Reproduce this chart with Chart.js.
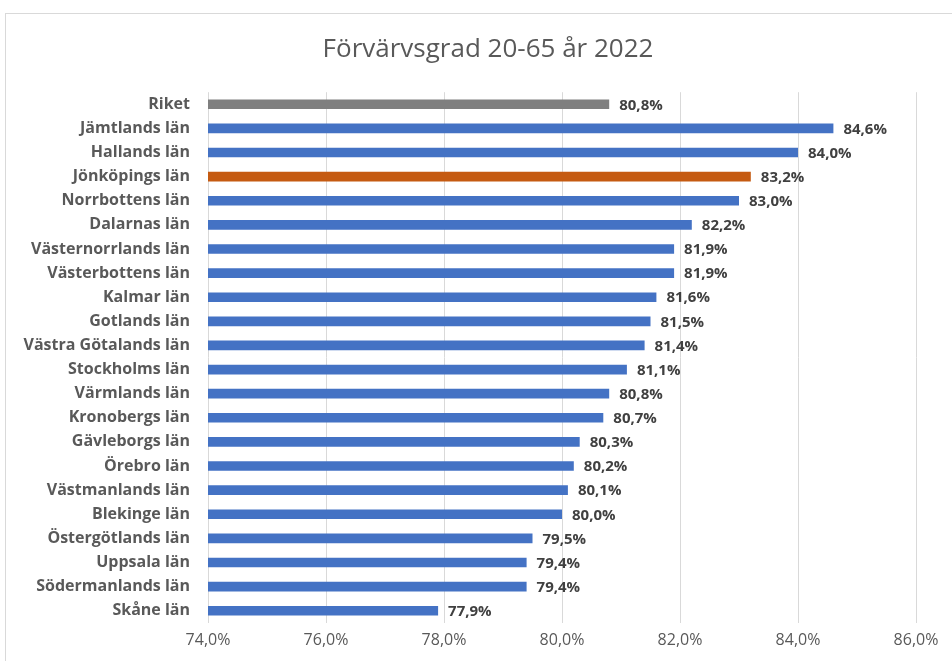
<!DOCTYPE html>
<html>
<head>
<meta charset="utf-8">
<script src="https://cdn.jsdelivr.net/npm/chart.js@4"></script>
<style>
  html, body { margin: 0; padding: 0; background: #fff; overflow: hidden; }
  #box { position: absolute; left: 5px; top: 13px; width: 970px; height: 660px; border: 1px solid #d9d9d9; background: #fff; }
  #wrap { position: absolute; left: 0; top: 0; width: 964px; height: 647px; }
</style>
</head>
<body>
<div id="box"><div id="wrap"><canvas id="c"></canvas></div></div>
<script>
const categories = ["Riket","Jämtlands län","Hallands län","Jönköpings län","Norrbottens län","Dalarnas län","Västernorrlands län","Västerbottens län","Kalmar län","Gotlands län","Västra Götalands län","Stockholms län","Värmlands län","Kronobergs län","Gävleborgs län","Örebro län","Västmanlands län","Blekinge län","Östergötlands län","Uppsala län","Södermanlands län","Skåne län"];
const values = [80.8,84.6,84.0,83.2,83.0,82.2,81.9,81.9,81.6,81.5,81.4,81.1,80.8,80.7,80.3,80.2,80.1,80.0,79.5,79.4,79.4,77.9];
const xTicks = [74,76,78,80,82,84,86];
const titleText = "Förvärvsgrad 20-65 år 2022";

const colorFor = (name) => name === "Riket" ? "#7f7f7f" : (name === "Jönköpings län" ? "#c55a11" : "#4472c4");
const fmt = (v) => v.toFixed(1).replace(".", ",") + "%";

const labelPlugin = {
  id: "barLabels",
  afterDatasetsDraw(chart) {
    const ctx = chart.ctx;
    const meta = chart.getDatasetMeta(0);
    ctx.save();
    ctx.font = "bold 15px 'Open Sans'";
    ctx.fillStyle = "#404040";
    ctx.textAlign = "left";
    ctx.textBaseline = "middle";
    meta.data.forEach((bar, i) => {
      ctx.fillText(fmt(values[i]), bar.x + 10, bar.y + 1);
    });
    ctx.restore();
  }
};

new Chart(document.getElementById("c"), {
  type: "bar",
  data: {
    labels: categories,
    datasets: [{
      data: values,
      backgroundColor: categories.map(colorFor),
      barPercentage: 0.4,
      categoryPercentage: 1.0
    }]
  },
  options: {
    indexAxis: "y",
    responsive: true,
    maintainAspectRatio: false,
    animation: false,
    layout: { padding: { left: 0, right: 0, top: 0, bottom: 3 } },
    plugins: {
      legend: { display: false },
      tooltip: { enabled: false },
      title: {
        display: true,
        text: titleText,
        color: "#595959",
        font: { family: "'Open Sans'", size: 26, weight: "normal" },
        padding: { top: 20, bottom: 27 }
      }
    },
    scales: {
      x: {
        type: "linear",
        min: 74,
        max: 86,
        afterBuildTicks(scale) { scale.ticks = xTicks.map(v => ({ value: v })); },
        ticks: {
          callback: (v) => fmt(v),
          color: "#595959",
          font: { family: "'Open Sans'", size: 16 },
          padding: 8
        },
        grid: { color: "#d9d9d9", drawTicks: false },
        border: { display: false }
      },
      y: {
        afterFit(scale) { scale.width = 202; },
        ticks: {
          color: "#595959",
          font: { family: "'Open Sans'", size: 16, weight: "bold" },
          padding: 18
        },
        grid: { display: false, drawTicks: false },
        border: { display: false }
      },
      y2: {
        type: "category",
        axis: "y",
        position: "right",
        afterFit(scale) { scale.width = 54; },
        ticks: { display: false },
        grid: { display: false, drawTicks: false },
        border: { display: false }
      }
    }
  },
  plugins: [labelPlugin]
});
</script>
</body>
</html>
